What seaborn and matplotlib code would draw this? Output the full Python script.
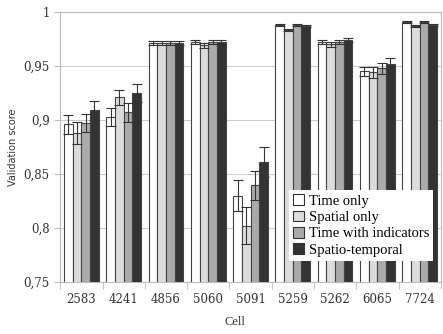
import numpy as np
import pandas as pd
import seaborn as sns
import matplotlib
matplotlib.use("Agg")
import matplotlib.pyplot as plt
from matplotlib.patches import Patch

cells = ["2583", "4241", "4856", "5060", "5091", "5259", "5262", "6065", "7724"]
methods = ["Time only", "Spatial only", "Time with indicators", "Spatio-temporal"]

time_only = [0.896, 0.903, 0.971, 0.972, 0.830, 0.988, 0.9725, 0.945, 0.991]
spatial_only = [0.888, 0.921, 0.971, 0.969, 0.802, 0.983, 0.970, 0.944, 0.987]
time_ind = [0.897, 0.907, 0.971, 0.972, 0.8395, 0.988, 0.9725, 0.948, 0.991]
spatio_temp = [0.909, 0.925, 0.971, 0.972, 0.861, 0.987, 0.974, 0.952, 0.988]

err_time_only = [0.0086, 0.0085, 0.002, 0.002, 0.014, 0.001, 0.002, 0.004, 0.001]
err_spatial_only = [0.010, 0.007, 0.002, 0.002, 0.017, 0.001, 0.002, 0.005, 0.001]
err_time_ind = [0.0086, 0.0085, 0.002, 0.002, 0.0135, 0.001, 0.002, 0.005, 0.001]
err_spatio_temp = [0.009, 0.008, 0.002, 0.002, 0.014, 0.001, 0.002, 0.005, 0.001]

colors = ["#ffffff", "#dcdcdc", "#aaaaaa", "#333333"]

vals = [time_only, spatial_only, time_ind, spatio_temp]
errs = [err_time_only, err_spatial_only, err_time_ind, err_spatio_temp]

df = pd.DataFrame({
    "Cell": cells * 4,
    "Method": np.repeat(methods, len(cells)),
    "score": np.concatenate(vals),
    "err": np.concatenate(errs),
})

fig = plt.figure(figsize=(4.43, 3.34), dpi=100)
ax = fig.add_axes([0.136, 0.156, 0.859, 0.808])

sns.barplot(data=df, x="Cell", y="score", hue="Method", palette=colors,
            errorbar=None, width=0.82, edgecolor="#444444", linewidth=0.8,
            legend=False, ax=ax, zorder=3)

# error bars on top of each bar, using the positions seaborn gave the bars
bar_conts = list(ax.containers)
for i, cont in enumerate(bar_conts):
    xs = [p.get_x() + p.get_width() / 2 for p in cont.patches]
    ax.errorbar(xs, vals[i], yerr=errs[i], fmt="none", ecolor="#333333",
                elinewidth=0.8, capsize=3.6, capthick=0.8, zorder=4)

ax.set_ylim(0.75, 1.0)
ax.set_xlim(-0.5, len(cells) - 0.5)
ax.set_yticks([0.75, 0.8, 0.85, 0.9, 0.95, 1.0])
ax.set_yticklabels(["0,75", "0,8", "0,85", "0,9", "0,95", "1"],
                   family="DejaVu Serif", fontsize=8.5, color="#333333")
ax.set_xticks(range(len(cells)))
ax.set_xticklabels(cells, family="DejaVu Serif", fontsize=8.5, color="#333333")
ax.set_xticks(np.arange(-0.5, len(cells), 1), minor=True)
ax.tick_params(axis="x", which="major", length=0, pad=8)
ax.tick_params(axis="x", which="minor", length=5, color="#bbbbbb")
ax.tick_params(axis="y", length=4, color="#bbbbbb")

ax.yaxis.grid(True, color="#cccccc", linewidth=0.8, zorder=0)
ax.set_axisbelow(True)
for s in ax.spines.values():
    s.set_color("#bbbbbb")
    s.set_linewidth(0.8)

ax.set_ylabel("Validation score", family="DejaVu Sans", fontsize=7, color="#333333")
ax.set_xlabel("Cell", family="Liberation Serif", fontsize=9, color="#333333", labelpad=7)
ax.xaxis.set_label_coords(0.46, -0.125)

handles = [Patch(facecolor=c, edgecolor="#333333", linewidth=0.8) for c in colors]
leg = ax.legend(handles, methods, loc="lower right", bbox_to_anchor=(1.0, 0.05),
                prop={"family": "Liberation Serif", "size": 10.5},
                frameon=True, fancybox=False, edgecolor="none", framealpha=1,
                handlelength=0.75, handleheight=0.75, handletextpad=0.3,
                labelspacing=0.2, borderpad=0.3)
leg.set_zorder(10)

fig.savefig("out.png", dpi=100)
